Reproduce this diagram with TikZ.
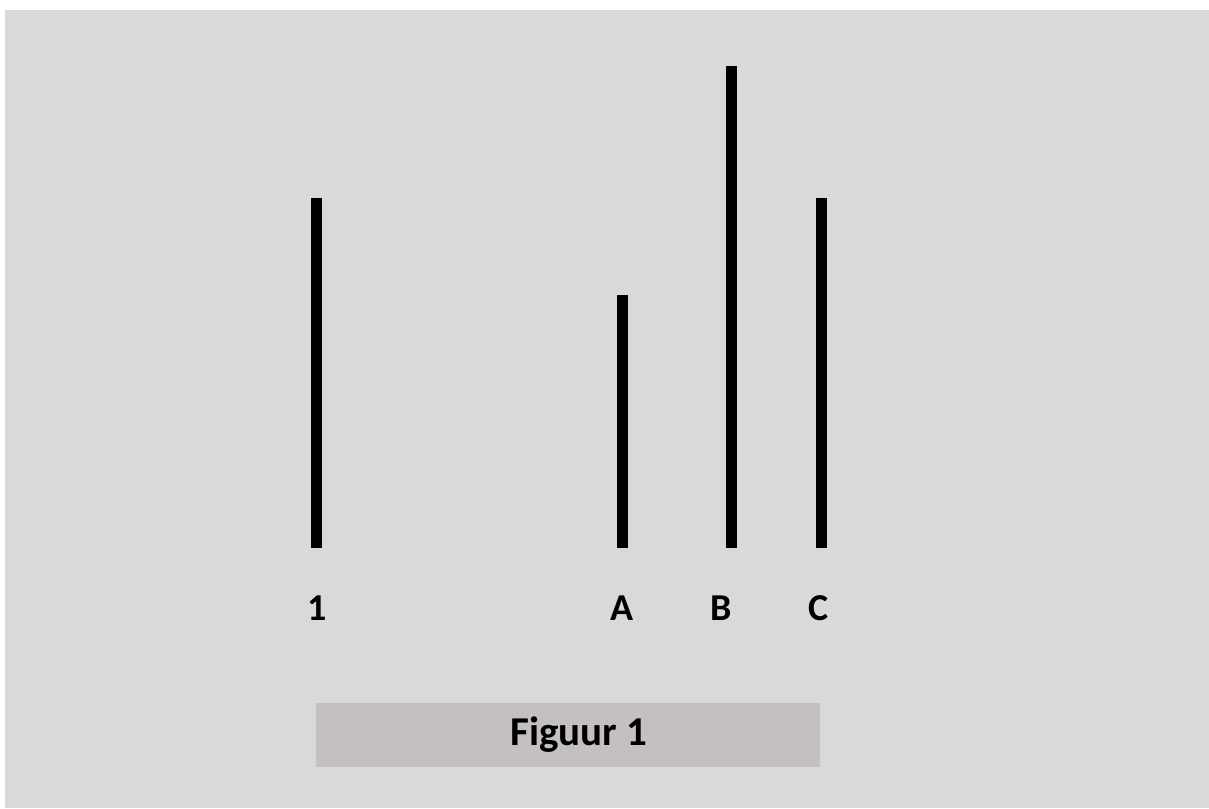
\documentclass[tikz,border=0pt]{standalone}
\usepackage{fontspec}
\setmainfont{Carlito}
\definecolor{bg}{HTML}{D9D9D9}
\definecolor{capbox}{HTML}{C3C0BF}
\begin{document}
\begin{tikzpicture}[x=1pt,y=-1pt,
  bar/.style={line width=11pt,black},
  lbl/.style={font=\fontsize{38}{44}\selectfont\bfseries,inner sep=0pt,anchor=center}]
\useasboundingbox (0,0) rectangle (1209,808);
\fill[white] (0,0) rectangle (1209,808);
\fill[bg] (5,10) rectangle (1209,808);
\coordinate (t1) at (316,198); \coordinate (b1) at (316,548);
\coordinate (tA) at (622,295); \coordinate (bA) at (622,548);
\coordinate (tB) at (731,66);  \coordinate (bB) at (731,548);
\coordinate (tC) at (821,198); \coordinate (bC) at (821,548);
\draw[bar] (t1) -- (b1);
\draw[bar] (tA) -- (bA);
\draw[bar] (tB) -- (bB);
\draw[bar] (tC) -- (bC);
\node[lbl] (l1) at (317,608) {1};
\node[lbl] (lA) at (622,608) {A};
\node[lbl] (lB) at (721,608) {B};
\node[lbl] (lC) at (819,608) {C};
\node[fill=capbox,minimum width=504pt,minimum height=64pt,inner sep=0pt] (cap) at (568,735) {};
\node[font=\fontsize{41}{48}\selectfont\bfseries,inner sep=0pt] (captext) at (579,735) {Figuur 1};
\end{tikzpicture}
\end{document}
